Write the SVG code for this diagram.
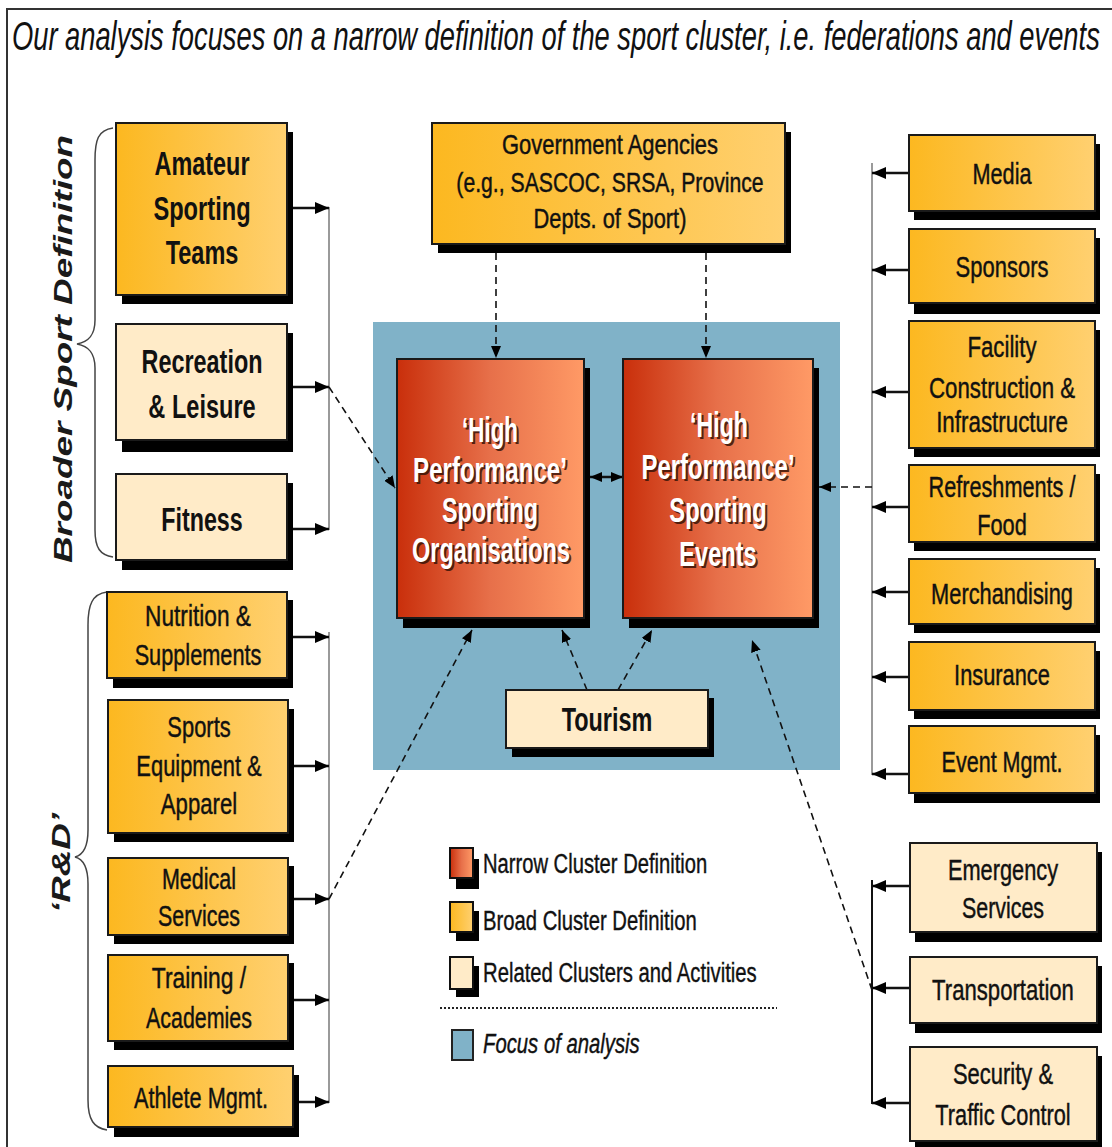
<svg xmlns="http://www.w3.org/2000/svg" width="1112" height="1147" viewBox="0 0 1112 1147">
  <style>
    text { font-family: "Liberation Sans", Arial, sans-serif; fill: #111; }
    .c { text-anchor: middle; }
    .b { font-weight: bold; }
    .reg { font-size: 30px; stroke: #111; stroke-width: 0.45; }
    .gov { font-size: 27px; stroke: #111; stroke-width: 0.45; text-anchor: middle; }
    .hp { font-size: 35px; font-weight: bold; fill: #fff; text-anchor: middle; }
    .hps { font-size: 35px; font-weight: bold; fill: #3a1408; text-anchor: middle; opacity: 0.85; }
    .leg { font-size: 27px; stroke: #111; stroke-width: 0.4; }
    .side { font-size: 25px; font-weight: bold; font-style: italic; fill: #1a1a1a; }
    .box { stroke: #1a1a1a; stroke-width: 2; }
    .shadow { fill: #000; }
    .broad { fill: url(#gBroad); }
    .related { fill: #FFEBC8; }
    .narrow { fill: url(#gNarrow); }
    .bus { stroke: #9a9a9a; stroke-width: 2; fill: none; }
    .busdark { stroke: #111; stroke-width: 2; fill: none; }
    .stem { stroke: #111; stroke-width: 2.5; fill: none; marker-end: url(#headR); }
    .dash { stroke: #111; stroke-width: 1.6; fill: none; stroke-dasharray: 7 5; marker-end: url(#headS); }
    .brace { stroke: #444; stroke-width: 1.5; fill: none; }
  </style>
  <defs>
    <linearGradient id="gBroad" x1="0" y1="0" x2="1" y2="0">
      <stop offset="0" stop-color="#FCB820"/>
      <stop offset="1" stop-color="#FFD070"/>
    </linearGradient>
    <linearGradient id="gNarrow" x1="0" y1="0" x2="1" y2="0">
      <stop offset="0" stop-color="#C92F0B"/>
      <stop offset="0.5" stop-color="#E7704A"/>
      <stop offset="1" stop-color="#FF9A66"/>
    </linearGradient>
    <marker id="headR" viewBox="0 0 14 12" refX="14" refY="6" markerWidth="14" markerHeight="12" markerUnits="userSpaceOnUse" orient="auto">
      <path d="M0,0 L14,6 L0,12 z" fill="#000"/>
    </marker>
    <marker id="headS" viewBox="0 0 12 10" refX="12" refY="5" markerWidth="12" markerHeight="10" markerUnits="userSpaceOnUse" orient="auto">
      <path d="M0,0 L12,5 L0,10 z" fill="#000"/>
    </marker>
    <marker id="headStart" viewBox="0 0 12 10" refX="0" refY="5" markerWidth="12" markerHeight="10" markerUnits="userSpaceOnUse" orient="auto">
      <path d="M12,0 L0,5 L12,10 z" fill="#000"/>
    </marker>
  </defs>

  <rect width="1112" height="1147" fill="#fff"/>

  <!-- outer frame and heading -->
  <rect x="7" y="9" width="1120" height="1150" fill="none" stroke="#333" stroke-width="2"/>
  <text transform="translate(12 50) scale(0.682 1)" font-size="40" font-style="italic" fill="#1a1a2a" textLength="1595" lengthAdjust="spacingAndGlyphs">Our analysis focuses on a narrow definition of the sport cluster, i.e. federations and events</text>

  <!-- focus area -->
  <rect id="focus" x="373" y="322" width="467" height="448" fill="#80B2C8"/>

  <!-- braces and side labels -->
  <g id="broader-label">
    <path class="brace" d="M113,128 C98,130 95,140 95,160 L95,320 C95,336 88,342 77,344 C88,346 95,352 95,368 L95,530 C95,548 100,555 113,557"/>
    <text class="side c" transform="translate(72,349) rotate(-90)" textLength="428" lengthAdjust="spacingAndGlyphs">Broader Sport Definition</text>
  </g>
  <g id="rd-label">
    <path class="brace" d="M107,592 C92,594 88,605 88,625 L88,830 C88,848 83,855 75,857 C83,859 88,866 88,884 L88,1100 C88,1120 94,1128 107,1130"/>
    <text class="side c" transform="translate(70,863) rotate(-90)" textLength="100" lengthAdjust="spacingAndGlyphs">‘R&amp;D’</text>
  </g>

  <!-- connectors -->
  <g id="connectors">
    <!-- left buses -->
    <line class="bus" x1="329" y1="207" x2="329" y2="530"/>
    <line class="bus" x1="329" y1="632" x2="329" y2="1103"/>
    <line class="stem" x1="293" y1="208" x2="329" y2="208"/>
    <line class="stem" x1="293" y1="387" x2="329" y2="387"/>
    <line class="stem" x1="293" y1="529" x2="329" y2="529"/>
    <line class="stem" x1="291" y1="637" x2="329" y2="637"/>
    <line class="stem" x1="293" y1="766" x2="329" y2="766"/>
    <line class="stem" x1="293" y1="899" x2="329" y2="899"/>
    <line class="stem" x1="293" y1="1000" x2="329" y2="1000"/>
    <line class="stem" x1="298" y1="1102" x2="329" y2="1102"/>
    <!-- right buses -->
    <line class="bus" x1="872" y1="163" x2="872" y2="775"/>
    <line class="busdark" x1="872" y1="880" x2="872" y2="1104"/>
    <line class="stem" x1="909" y1="173" x2="872" y2="173"/>
    <line class="stem" x1="909" y1="270" x2="872" y2="270"/>
    <line class="stem" x1="909" y1="392" x2="872" y2="392"/>
    <line class="stem" x1="909" y1="507" x2="872" y2="507"/>
    <line class="stem" x1="909" y1="592" x2="872" y2="592"/>
    <line class="stem" x1="909" y1="677" x2="872" y2="677"/>
    <line class="stem" x1="909" y1="774" x2="872" y2="774"/>
    <line class="stem" x1="910" y1="886" x2="872" y2="886"/>
    <line class="stem" x1="910" y1="988" x2="872" y2="988"/>
    <line class="stem" x1="910" y1="1103" x2="872" y2="1103"/>
    <!-- dashed influence links -->
    <line class="dash" x1="496" y1="253" x2="496" y2="358"/>
    <line class="dash" x1="706" y1="253" x2="706" y2="358"/>
    <line class="dash" x1="329" y1="387" x2="395" y2="488"/>
    <line class="dash" x1="329" y1="899" x2="472" y2="630"/>
    <line class="dash" x1="587" y1="690" x2="562" y2="630"/>
    <line class="dash" x1="618" y1="690" x2="652" y2="630"/>
    <line class="dash" x1="872" y1="487" x2="819" y2="487"/>
    <line class="dash" x1="872" y1="990" x2="752" y2="640"/>
    <!-- two-way link between the core boxes -->
    <line x1="590" y1="477" x2="623" y2="477" stroke="#111" stroke-width="2.5" marker-start="url(#headStart)" marker-end="url(#headS)"/>
  </g>

  <!-- broader sport definition -->
  <g id="amateur-teams">
    <rect class="shadow" x="122" y="132" width="171" height="172"/>
    <rect class="box broad" x="116" y="123" width="171" height="172"/>
    <text class="c b" font-size="33" transform="translate(202 175) scale(0.72 1)" textLength="132" lengthAdjust="spacingAndGlyphs">Amateur</text>
    <text class="c b" font-size="33" transform="translate(202 220) scale(0.72 1)" textLength="135" lengthAdjust="spacingAndGlyphs">Sporting</text>
    <text class="c b" font-size="33" transform="translate(202 264) scale(0.72 1)" textLength="101" lengthAdjust="spacingAndGlyphs">Teams</text>
  </g>
  <g id="recreation-leisure">
    <rect class="shadow" x="122" y="333" width="171" height="119"/>
    <rect class="box related" x="116" y="324" width="171" height="116"/>
    <text class="c b" font-size="34" transform="translate(202 373) scale(0.72 1)" textLength="168" lengthAdjust="spacingAndGlyphs">Recreation</text>
    <text class="c b" font-size="34" transform="translate(202 418) scale(0.72 1)" textLength="149" lengthAdjust="spacingAndGlyphs">&amp; Leisure</text>
  </g>
  <g id="fitness">
    <rect class="shadow" x="122" y="483" width="171" height="87"/>
    <rect class="box related" x="116" y="474" width="171" height="86"/>
    <text class="c b" font-size="34" transform="translate(202 531) scale(0.72 1)" textLength="113" lengthAdjust="spacingAndGlyphs">Fitness</text>
  </g>

  <!-- R&D group -->
  <g id="nutrition">
    <rect class="shadow" x="113" y="600" width="180" height="88"/>
    <rect class="box broad" x="107" y="592" width="180" height="86"/>
    <text class="c reg" transform="translate(198 626) scale(0.72 1)" textLength="147" lengthAdjust="spacingAndGlyphs">Nutrition &amp;</text>
    <text class="c reg" transform="translate(198 665) scale(0.72 1)" textLength="176" lengthAdjust="spacingAndGlyphs">Supplements</text>
  </g>
  <g id="equipment">
    <rect class="shadow" x="114" y="709" width="180" height="133"/>
    <rect class="box broad" x="108" y="700" width="180" height="133"/>
    <text class="c reg" transform="translate(199 737) scale(0.72 1)" textLength="88" lengthAdjust="spacingAndGlyphs">Sports</text>
    <text class="c reg" transform="translate(199 776) scale(0.72 1)" textLength="174" lengthAdjust="spacingAndGlyphs">Equipment &amp;</text>
    <text class="c reg" transform="translate(199 814) scale(0.72 1)" textLength="106" lengthAdjust="spacingAndGlyphs">Apparel</text>
  </g>
  <g id="medical">
    <rect class="shadow" x="114" y="866" width="180" height="78"/>
    <rect class="box broad" x="108" y="858" width="180" height="77"/>
    <text class="c reg" transform="translate(199 889) scale(0.72 1)" textLength="103" lengthAdjust="spacingAndGlyphs">Medical</text>
    <text class="c reg" transform="translate(199 926) scale(0.72 1)" textLength="114" lengthAdjust="spacingAndGlyphs">Services</text>
  </g>
  <g id="training">
    <rect class="shadow" x="114" y="963" width="180" height="87"/>
    <rect class="box broad" x="108" y="955" width="180" height="86"/>
    <text class="c reg" transform="translate(199 988) scale(0.72 1)" textLength="131" lengthAdjust="spacingAndGlyphs">Training /</text>
    <text class="c reg" transform="translate(199 1028) scale(0.72 1)" textLength="147" lengthAdjust="spacingAndGlyphs">Academies</text>
  </g>
  <g id="athlete-mgmt">
    <rect class="shadow" x="114" y="1075" width="185" height="62"/>
    <rect class="box broad" x="108" y="1066" width="185" height="61"/>
    <text class="c reg" transform="translate(201 1108) scale(0.72 1)" textLength="186" lengthAdjust="spacingAndGlyphs">Athlete Mgmt.</text>
  </g>

  <!-- government -->
  <g id="government">
    <rect class="shadow" x="438" y="132" width="353" height="121"/>
    <rect class="box broad" x="432" y="123" width="353" height="121"/>
    <text class="gov" transform="translate(610 154) scale(0.78 1)" textLength="277" lengthAdjust="spacingAndGlyphs">Government Agencies</text>
    <text class="gov" transform="translate(610 192) scale(0.78 1)" textLength="394" lengthAdjust="spacingAndGlyphs">(e.g., SASCOC, SRSA, Province</text>
    <text class="gov" transform="translate(610 228) scale(0.78 1)" textLength="196" lengthAdjust="spacingAndGlyphs">Depts. of Sport)</text>
  </g>

  <!-- narrow cluster core -->
  <g id="hp-organisations">
    <rect class="shadow" x="403" y="368" width="187" height="260"/>
    <rect class="box narrow" x="397" y="359" width="187" height="259"/>
    <text class="hps" transform="translate(492 444) scale(0.69 1)" textLength="81" lengthAdjust="spacingAndGlyphs">‘High</text>
    <text class="hp" transform="translate(490 442) scale(0.69 1)" textLength="81" lengthAdjust="spacingAndGlyphs">‘High</text>
    <text class="hps" transform="translate(492 484) scale(0.69 1)" textLength="223" lengthAdjust="spacingAndGlyphs">Performance’</text>
    <text class="hp" transform="translate(490 482) scale(0.69 1)" textLength="223" lengthAdjust="spacingAndGlyphs">Performance’</text>
    <text class="hps" transform="translate(492 524) scale(0.69 1)" textLength="139" lengthAdjust="spacingAndGlyphs">Sporting</text>
    <text class="hp" transform="translate(490 522) scale(0.69 1)" textLength="139" lengthAdjust="spacingAndGlyphs">Sporting</text>
    <text class="hps" transform="translate(493 564) scale(0.69 1)" textLength="229" lengthAdjust="spacingAndGlyphs">Organisations</text>
    <text class="hp" transform="translate(491 562) scale(0.69 1)" textLength="229" lengthAdjust="spacingAndGlyphs">Organisations</text>
  </g>
  <g id="hp-events">
    <rect class="shadow" x="629" y="368" width="190" height="260"/>
    <rect class="box narrow" x="623" y="359" width="190" height="259"/>
    <text class="hps" transform="translate(721 439) scale(0.69 1)" textLength="84" lengthAdjust="spacingAndGlyphs">‘High</text>
    <text class="hp" transform="translate(719 437) scale(0.69 1)" textLength="84" lengthAdjust="spacingAndGlyphs">‘High</text>
    <text class="hps" transform="translate(720 481) scale(0.69 1)" textLength="222" lengthAdjust="spacingAndGlyphs">Performance’</text>
    <text class="hp" transform="translate(718 479) scale(0.69 1)" textLength="222" lengthAdjust="spacingAndGlyphs">Performance’</text>
    <text class="hps" transform="translate(720 524) scale(0.69 1)" textLength="141" lengthAdjust="spacingAndGlyphs">Sporting</text>
    <text class="hp" transform="translate(718 522) scale(0.69 1)" textLength="141" lengthAdjust="spacingAndGlyphs">Sporting</text>
    <text class="hps" transform="translate(720 568) scale(0.69 1)" textLength="112" lengthAdjust="spacingAndGlyphs">Events</text>
    <text class="hp" transform="translate(718 566) scale(0.69 1)" textLength="112" lengthAdjust="spacingAndGlyphs">Events</text>
  </g>
  <g id="tourism">
    <rect class="shadow" x="512" y="698" width="202" height="59"/>
    <rect class="box related" x="506" y="690" width="202" height="58"/>
    <text class="c b" font-size="33" transform="translate(607 731) scale(0.72 1)" textLength="126" lengthAdjust="spacingAndGlyphs">Tourism</text>
  </g>

  <!-- supporting industries -->
  <g id="media">
    <rect class="shadow" x="914" y="144" width="186" height="76"/>
    <rect class="box broad" x="909" y="135" width="186" height="76"/>
    <text class="c reg" transform="translate(1002 184) scale(0.72 1)" textLength="82" lengthAdjust="spacingAndGlyphs">Media</text>
  </g>
  <g id="sponsors">
    <rect class="shadow" x="914" y="238" width="186" height="76"/>
    <rect class="box broad" x="909" y="229" width="186" height="74"/>
    <text class="c reg" transform="translate(1002 277) scale(0.72 1)" textLength="129" lengthAdjust="spacingAndGlyphs">Sponsors</text>
  </g>
  <g id="facility">
    <rect class="shadow" x="914" y="330" width="186" height="127"/>
    <rect class="box broad" x="909" y="321" width="186" height="127"/>
    <text class="c reg" transform="translate(1002 357) scale(0.72 1)" textLength="96" lengthAdjust="spacingAndGlyphs">Facility</text>
    <text class="c reg" transform="translate(1002 398) scale(0.72 1)" textLength="203" lengthAdjust="spacingAndGlyphs">Construction &amp;</text>
    <text class="c reg" transform="translate(1002 432) scale(0.72 1)" textLength="183" lengthAdjust="spacingAndGlyphs">Infrastructure</text>
  </g>
  <g id="refreshments">
    <rect class="shadow" x="914" y="474" width="186" height="77"/>
    <rect class="box broad" x="909" y="465" width="186" height="77"/>
    <text class="c reg" transform="translate(1002 497) scale(0.72 1)" textLength="204" lengthAdjust="spacingAndGlyphs">Refreshments /</text>
    <text class="c reg" transform="translate(1002 535) scale(0.72 1)" textLength="69" lengthAdjust="spacingAndGlyphs">Food</text>
  </g>
  <g id="merchandising">
    <rect class="shadow" x="914" y="568" width="186" height="65"/>
    <rect class="box broad" x="909" y="559" width="186" height="65"/>
    <text class="c reg" transform="translate(1002 604) scale(0.72 1)" textLength="197" lengthAdjust="spacingAndGlyphs">Merchandising</text>
  </g>
  <g id="insurance">
    <rect class="shadow" x="914" y="651" width="186" height="68"/>
    <rect class="box broad" x="909" y="642" width="186" height="68"/>
    <text class="c reg" transform="translate(1002 685) scale(0.72 1)" textLength="133" lengthAdjust="spacingAndGlyphs">Insurance</text>
  </g>
  <g id="event-mgmt">
    <rect class="shadow" x="914" y="735" width="186" height="68"/>
    <rect class="box broad" x="909" y="726" width="186" height="67"/>
    <text class="c reg" transform="translate(1002 772) scale(0.72 1)" textLength="168" lengthAdjust="spacingAndGlyphs">Event Mgmt.</text>
  </g>
  <g id="emergency">
    <rect class="shadow" x="915" y="852" width="187" height="90"/>
    <rect class="box related" x="910" y="843" width="187" height="89"/>
    <text class="c reg" transform="translate(1003 880) scale(0.72 1)" textLength="153" lengthAdjust="spacingAndGlyphs">Emergency</text>
    <text class="c reg" transform="translate(1003 918) scale(0.72 1)" textLength="114" lengthAdjust="spacingAndGlyphs">Services</text>
  </g>
  <g id="transportation">
    <rect class="shadow" x="915" y="966" width="187" height="67"/>
    <rect class="box related" x="910" y="957" width="187" height="66"/>
    <text class="c reg" transform="translate(1003 1000) scale(0.72 1)" textLength="197" lengthAdjust="spacingAndGlyphs">Transportation</text>
  </g>
  <g id="security">
    <rect class="shadow" x="915" y="1056" width="187" height="95"/>
    <rect class="box related" x="910" y="1047" width="187" height="94"/>
    <text class="c reg" transform="translate(1003 1084) scale(0.72 1)" textLength="139" lengthAdjust="spacingAndGlyphs">Security &amp;</text>
    <text class="c reg" transform="translate(1003 1125) scale(0.72 1)" textLength="188" lengthAdjust="spacingAndGlyphs">Traffic Control</text>
  </g>

  <!-- legend -->
  <g id="legend">
    <rect class="shadow" x="456" y="859" width="23" height="30"/>
    <rect class="narrow" x="450" y="848" width="23" height="30" stroke="#111" stroke-width="2"/>
    <text class="leg" transform="translate(483 873) scale(0.75 1)" textLength="299" lengthAdjust="spacingAndGlyphs">Narrow Cluster Definition</text>
    <rect class="shadow" x="456" y="911" width="23" height="30"/>
    <rect class="broad" x="450" y="902" width="23" height="30" stroke="#111" stroke-width="2"/>
    <text class="leg" transform="translate(483 930) scale(0.75 1)" textLength="285" lengthAdjust="spacingAndGlyphs">Broad Cluster Definition</text>
    <rect class="shadow" x="456" y="966" width="23" height="31"/>
    <rect class="related" x="450" y="957" width="23" height="32" stroke="#111" stroke-width="2"/>
    <text class="leg" transform="translate(483 982) scale(0.75 1)" textLength="365" lengthAdjust="spacingAndGlyphs">Related Clusters and Activities</text>
    <line x1="440" y1="1008" x2="777" y2="1008" stroke="#222" stroke-width="2" stroke-dasharray="2 2"/>
    <rect x="452" y="1030" width="21" height="30" fill="#80B2C8" stroke="#222" stroke-width="2"/>
    <text class="leg" font-style="italic" transform="translate(483 1053) scale(0.75 1)" textLength="209" lengthAdjust="spacingAndGlyphs">Focus of analysis</text>
  </g>
</svg>
